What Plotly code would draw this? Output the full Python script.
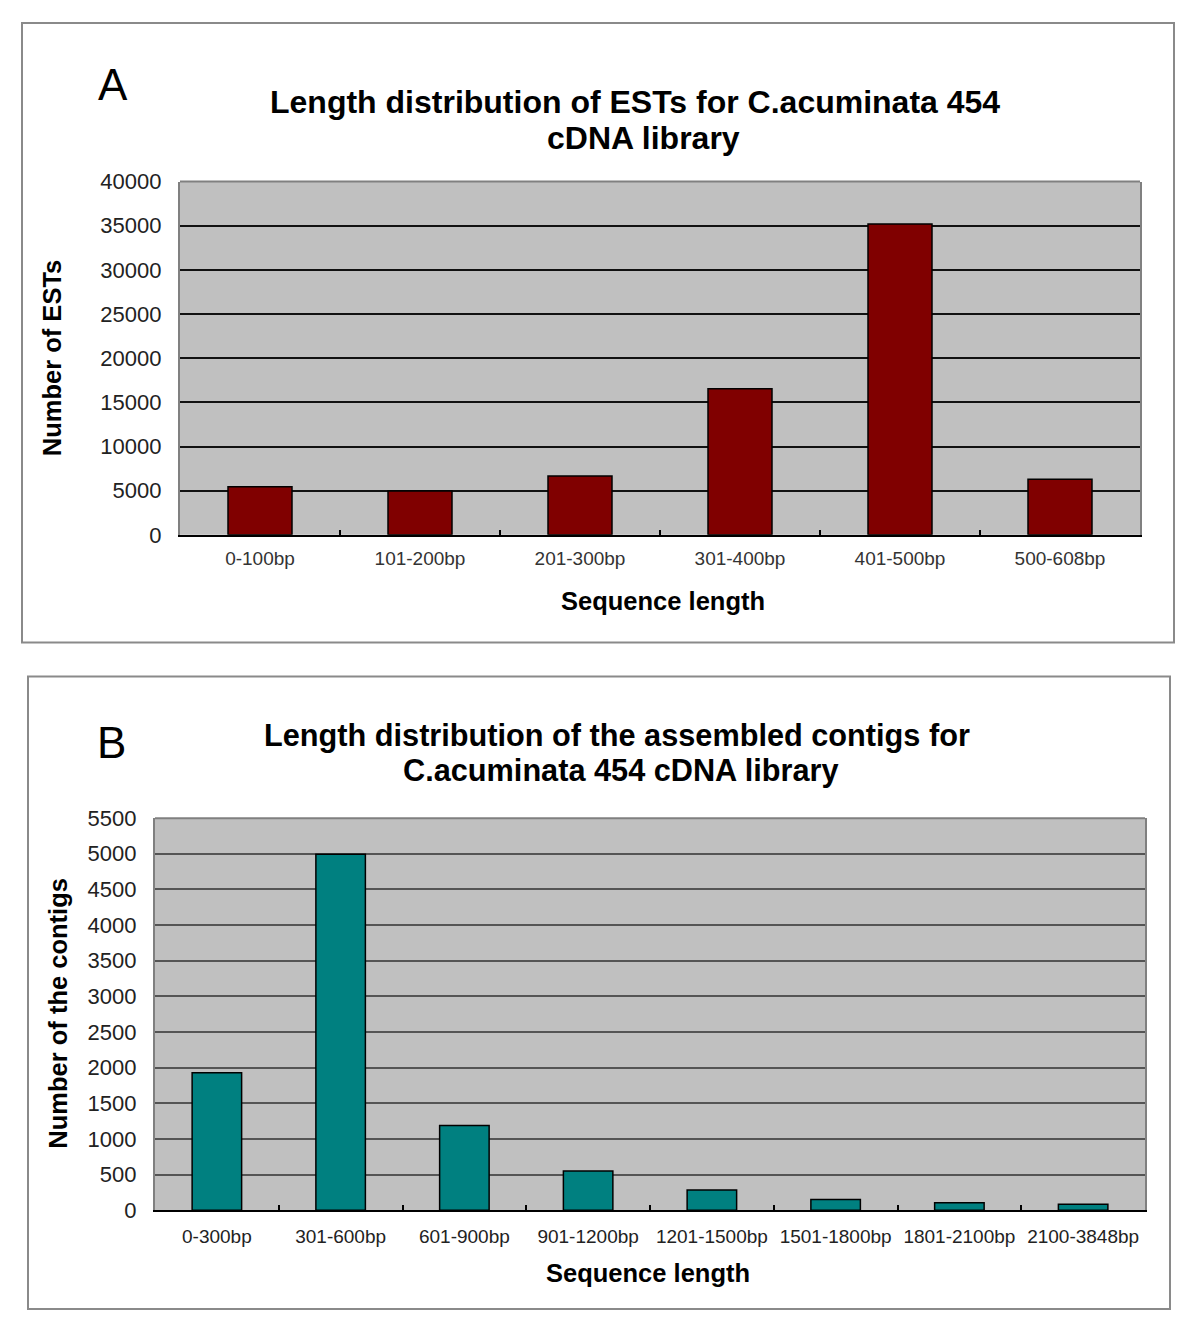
import plotly.graph_objects as go

# panel A: EST lengths
est_bins = ['0-100bp', '101-200bp', '201-300bp', '301-400bp', '401-500bp', '500-608bp']
est_counts = [5450, 4950, 6650, 16550, 35200, 6300]

# panel B: contig lengths
contig_bins = ['0-300bp', '301-600bp', '601-900bp', '901-1200bp', '1201-1500bp',
               '1501-1800bp', '1801-2100bp', '2100-3848bp']
contig_counts = [1930, 4995, 1190, 550, 285, 150, 105, 85]

W, H = 1200, 1331
FONT = "Liberation Sans, Arial, sans-serif"

# page offset seen in the screenshot (body margin etc.)
OX, OY, SY = 8, 19, 0.9835


def px(x):
    return (x - OX) / W


def py(y):
    return 1 - ((y - OY) / SY) / H


fig = go.Figure()

fig.add_trace(go.Bar(
    x=est_bins, y=est_counts, xaxis='x', yaxis='y',
    marker=dict(color='#800000', line=dict(color='#000', width=1.5)),
    width=0.40, showlegend=False,
))
fig.add_trace(go.Bar(
    x=contig_bins, y=contig_counts, xaxis='x2', yaxis='y2',
    marker=dict(color='#008080', line=dict(color='#000', width=1.5)),
    width=0.40, showlegend=False,
))

tick_font = dict(family=FONT, size=22, color='#222')

fig.update_layout(
    width=W, height=H,
    margin=dict(l=0, r=0, t=0, b=0),
    paper_bgcolor='#fff',
    plot_bgcolor='#c0c0c0',
    xaxis=dict(
        domain=[px(180), px(1140)], anchor='y',
        showline=True, linecolor='#000', linewidth=2,
        ticks='inside', tickson='boundaries', ticklen=5, tickwidth=2, tickcolor='#000',
        tickfont=dict(family=FONT, size=19, color='#333'), tickangle=0,
        ticklabelstandoff=5,
        showgrid=False, fixedrange=True,
    ),
    yaxis=dict(
        domain=[py(535), py(181)], anchor='x',
        range=[0, 40000], dtick=5000, tickformat='d',
        showline=True, linecolor='#808080', linewidth=2, mirror=True,
        gridcolor='#111', gridwidth=2, zeroline=False,
        tickfont=tick_font, ticksuffix='  ',
    ),
    xaxis2=dict(
        domain=[px(155), px(1145)], anchor='y2',
        showline=True, linecolor='#000', linewidth=2,
        ticks='inside', tickson='boundaries', ticklen=5, tickwidth=2, tickcolor='#000',
        tickfont=dict(family=FONT, size=19, color='#222'), tickangle=0,
        ticklabelstandoff=8,
        showgrid=False, fixedrange=True,
    ),
    yaxis2=dict(
        domain=[py(1212), py(819)], anchor='x2',
        range=[0, 5500], dtick=500, tickformat='d',
        showline=True, linecolor='#808080', linewidth=2, mirror=True,
        gridcolor='#555', gridwidth=2, zeroline=False,
        tickfont=tick_font, ticksuffix='  ',
    ),
)

# outer frames and top edges of the plot areas
frames = [(22, 22, 1174, 643), (28, 677, 1170, 1311)]
for x0, y0, x1, y1 in frames:
    fig.add_shape(type='rect', xref='paper', yref='paper',
                  x0=px(x0), x1=px(x1), y0=py(y1), y1=py(y0),
                  line=dict(color='#8a8a8a', width=2))
for xr, yr in [('x domain', 'y domain'), ('x2 domain', 'y2 domain')]:
    fig.add_shape(type='line', xref=xr, yref=yr, x0=0, x1=1, y0=1, y1=1,
                  line=dict(color='#808080', width=2))

axis_title_font = dict(family=FONT, size=25.5, color='#000')
letter_font = dict(family=FONT, size=44, color='#000')
title_a = dict(family=FONT, size=32, color='#000')
title_b = dict(family=FONT, size=30.7, color='#000')

texts = [
    # (text, x, y, font, angle)
    ('A', 113, 84, letter_font, 0),
    ('<b>Length distribution of ESTs for C.acuminata 454</b>', 635, 101, title_a, 0),
    ('<b>cDNA library</b>', 643, 137, title_a, 0),
    ('<b>Sequence length</b>', 663, 601, axis_title_font, 0),
    ('<b>Number of ESTs</b>', 52, 358, axis_title_font, -90),
    ('B', 111, 743, letter_font, 0),
    ('<b>Length distribution of the assembled contigs for</b>', 617, 736, title_b, 0),
    ('<b>C.acuminata 454 cDNA library</b>', 620, 771, title_b, 0),
    ('<b>Sequence length</b>', 648, 1275, axis_title_font, 0),
    ('<b>Number of the contigs</b>', 58, 1015, axis_title_font, -90),
]
for text, x, y, font, angle in texts:
    fig.add_annotation(text=text, x=px(x), y=py(y), xref='paper', yref='paper',
                       xanchor='center', yanchor='middle', showarrow=False,
                       font=font, textangle=angle)

fig.write_html("out.html")
